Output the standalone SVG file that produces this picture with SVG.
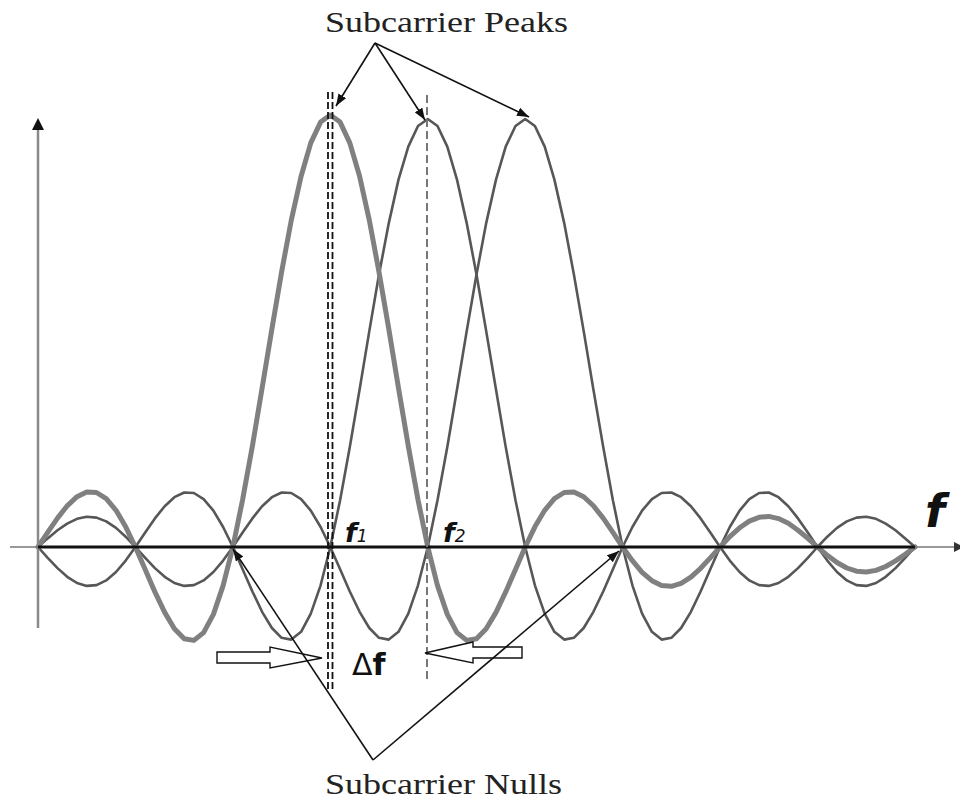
<svg xmlns="http://www.w3.org/2000/svg" width="960" height="801" viewBox="0 0 960 801">
<defs>
<style>
.curveA{fill:none;stroke:#808080;stroke-width:5;stroke-linejoin:round;stroke-linecap:round}
.curveB{fill:none;stroke:#575757;stroke-width:2.6;stroke-linejoin:round;stroke-linecap:round}
.lbl{font-family:"Liberation Serif","Times New Roman",serif;font-size:29px;fill:#222}
.ptr{fill:none;stroke:#111;stroke-width:1.6}
.blk{fill:#fff;stroke:#111;stroke-width:1.4}
.fi{font-family:"DejaVu Sans",sans-serif;font-weight:bold;font-style:italic;fill:#111}
</style>
<marker id="ah" viewBox="0 0 12 9" refX="12" refY="4.5" markerWidth="12" markerHeight="9" markerUnits="userSpaceOnUse" orient="auto">
<path d="M0,0 L12,4.5 L0,9 z" fill="#111"/>
</marker>
</defs>

<g id="curves">
<polyline id="sinc-f3" class="curveB" points="38,547 47.7,538.4 57.5,530.3 67.2,523.6 77,518.8 86.7,516.7 96.5,517.6 106.2,521.4 116,527.9 125.7,536.7 135.4,547 145.2,557.8 154.9,568.1 164.7,576.8 174.4,583 184.2,585.9 193.9,585.1 203.6,580.4 213.4,572 223.1,560.6 232.9,547 242.6,532.5 252.4,518.4 262.1,506.2 271.9,497.2 281.6,492.5 291.3,493 301.1,499.1 310.8,510.6 320.6,527 330.3,547 340.1,569.2 349.8,591.5 359.6,611.8 369.3,628 379,637.8 388.8,639.6 398.5,631.8 408.3,613.7 418,585.3 427.8,547 437.5,500.2 447.3,446.9 457,389.5 466.7,331.1 476.5,274.5 486.2,223.1 496,179.6 505.7,146.6 515.5,126 525.2,119 534.9,126 544.7,146.6 554.4,179.6 564.2,223.1 573.9,274.5 583.7,331.1 593.4,389.5 603.2,446.9 612.9,500.2 622.6,547 632.4,585.3 642.1,613.7 651.9,631.8 661.6,639.6 671.4,637.8 681.1,628 690.9,611.8 700.6,591.5 710.3,569.2 720.1,547 729.8,527 739.6,510.6 749.3,499.1 759.1,493 768.8,492.5 778.5,497.2 788.3,506.2 798,518.4 807.8,532.5 817.5,547 827.3,560.6 837,572 846.8,580.4 856.5,585.1 866.2,585.9 876,583 885.7,576.8 895.5,568.1 905.2,557.8 915,547"/>
<polyline id="sinc-f2" class="curveB" points="38,547 47.7,557.8 57.5,568.1 67.2,576.8 77,583 86.7,585.9 96.5,585.1 106.2,580.4 116,572 125.7,560.6 135.4,547 145.2,532.5 154.9,518.4 164.7,506.2 174.4,497.2 184.2,492.5 193.9,493 203.6,499.1 213.4,510.6 223.1,527 232.9,547 242.6,569.2 252.4,591.5 262.1,611.8 271.9,628 281.6,637.8 291.3,639.6 301.1,631.8 310.8,613.7 320.6,585.3 330.3,547 340.1,500.2 349.8,446.9 359.6,389.5 369.3,331.1 379,274.5 388.8,223.1 398.5,179.6 408.3,146.6 418,126 427.8,119 437.5,126 447.3,146.6 457,179.6 466.7,223.1 476.5,274.5 486.2,331.1 496,389.5 505.7,446.9 515.5,500.2 525.2,547 534.9,585.3 544.7,613.7 554.4,631.8 564.2,639.6 573.9,637.8 583.7,628 593.4,611.8 603.2,591.5 612.9,569.2 622.6,547 632.4,527 642.1,510.6 651.9,499.1 661.6,493 671.4,492.5 681.1,497.2 690.9,506.2 700.6,518.4 710.3,532.5 720.1,547 729.8,560.6 739.6,572 749.3,580.4 759.1,585.1 768.8,585.9 778.5,583 788.3,576.8 798,568.1 807.8,557.8 817.5,547 827.3,536.7 837,527.9 846.8,521.4 856.5,517.6 866.2,516.7 876,518.8 885.7,523.6 895.5,530.3 905.2,538.4 915,547"/>
<polyline id="sinc-f1" class="curveA" points="38,547 47.7,532.3 57.5,518.1 67.2,505.8 77,496.7 86.7,492 96.5,492.5 106.2,498.6 116,510.3 125.7,526.8 135.4,547 145.2,569.4 154.9,591.9 164.7,612.4 174.4,628.7 184.2,638.7 193.9,640.4 203.6,632.6 213.4,614.4 223.1,585.6 232.9,547 242.6,499.8 252.4,446 262.1,388.1 271.9,329 281.6,272 291.3,220.1 301.1,176.2 310.8,142.9 320.6,122.1 330.3,115 340.1,122.1 349.8,142.9 359.6,176.2 369.3,220.1 379,272 388.8,329 398.5,388.1 408.3,446 418,499.8 427.8,547 437.5,585.6 447.3,614.4 457,632.6 466.7,640.4 476.5,638.7 486.2,628.7 496,612.4 505.7,591.9 515.5,569.4 525.2,547 534.9,526.8 544.7,510.3 554.4,498.6 564.2,492.5 573.9,492 583.7,496.7 593.4,505.8 603.2,518.1 612.9,532.3 622.6,547 632.4,560.7 642.1,572.3 651.9,580.7 661.6,585.5 671.4,586.3 681.1,583.3 690.9,577.1 700.6,568.3 710.3,557.9 720.1,547 729.8,536.6 739.6,527.8 749.3,521.1 759.1,517.3 768.8,516.4 778.5,518.6 788.3,523.3 798,530.2 807.8,538.3 817.5,547 827.3,555.3 837,562.5 846.8,568 856.5,571.2 866.2,572 876,570.4 885.7,566.5 895.5,560.9 905.2,554.2 915,547"/>
</g>

<g id="axes">
<line x1="38" y1="628" x2="38" y2="128" stroke="#8a8a8a" stroke-width="2.5"/>
<path d="M38,118 L44,130 L32,130 z" fill="#111"/>
<line x1="10" y1="547" x2="955" y2="547" stroke="#777" stroke-width="1.6"/>
<path d="M954,542 L964,547 L954,552 z" fill="#333"/>
<line x1="38" y1="547" x2="915" y2="547" stroke="#111" stroke-width="3"/>
</g>

<g id="spacing-lines">
<line x1="328" y1="92" x2="328" y2="690" stroke="#111" stroke-width="1.8" stroke-dasharray="7 3"/>
<line x1="332.5" y1="92" x2="332.5" y2="690" stroke="#111" stroke-width="1.8" stroke-dasharray="7 3"/>
<line x1="427" y1="95" x2="427" y2="683" stroke="#777" stroke-width="2" stroke-dasharray="8 4"/>
</g>

<g id="delta-arrows">
<polygon class="blk" points="217,652 270,652 270,647 322,658 270,668 270,663 217,663"/>
<polygon class="blk" points="522,647 473,647 473,642 425,653 473,663 473,658 522,658"/>
</g>

<g id="labels">
<text class="fi" x="345" y="542" font-size="27">f<tspan font-size="17" font-weight="normal">1</tspan></text>
<text class="fi" x="443" y="542" font-size="27">f<tspan font-size="17" font-weight="normal">2</tspan></text>
<text class="fi" x="925" y="527" font-size="46">f</text>
<text x="352" y="675" font-family="DejaVu Sans, sans-serif" font-size="30" fill="#111">Δ<tspan font-weight="bold">f</tspan></text>
</g>

<g id="node-peaks">
<text class="lbl" x="325" y="32" textLength="243" lengthAdjust="spacingAndGlyphs">Subcarrier Peaks</text>
</g>
<g id="node-nulls">
<text class="lbl" x="325" y="794" font-size="28" textLength="237" lengthAdjust="spacingAndGlyphs">Subcarrier Nulls</text>
</g>

<g id="connectors">
<line class="ptr" x1="375" y1="43" x2="336" y2="106" marker-end="url(#ah)"/>
<line class="ptr" x1="375" y1="43" x2="425" y2="120" marker-end="url(#ah)"/>
<line class="ptr" x1="375" y1="43" x2="529" y2="117" marker-end="url(#ah)"/>
<line class="ptr" x1="373" y1="760" x2="233" y2="549" marker-end="url(#ah)"/>
<line class="ptr" x1="373" y1="760" x2="619" y2="551" marker-end="url(#ah)"/>
</g>
</svg>
